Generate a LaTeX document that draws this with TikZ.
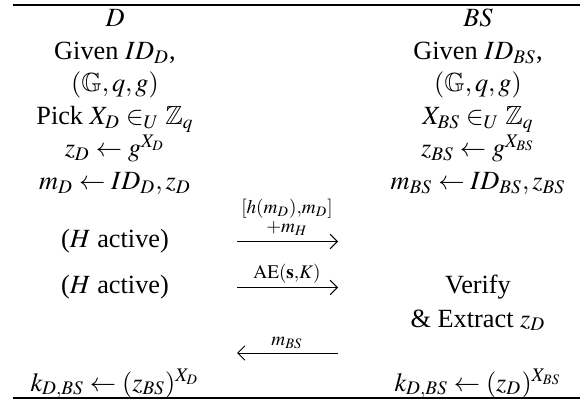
\documentclass[tikz,border=0pt]{standalone}
\usepackage{mathptmx}
\usepackage{amssymb}
\usepackage{fontspec}
\setmainfont{Liberation Serif}
\usetikzlibrary{arrows.meta}
\begin{document}
\begin{tikzpicture}[x=0.4165pt,y=-0.4165pt,
  txt/.style={anchor=base,inner sep=0pt,font=\fontsize{10.95}{13}\selectfont},
  lbl/.style={anchor=base,inner sep=0pt,font=\fontsize{10.95}{13}\selectfont},
  msg/.style={-{Straight Barb[length=3pt,width=6pt]},line width=0.4pt},
  rulebar/.style={line width=0.8pt}]
\useasboundingbox (0,0) rectangle (581,407);
% rules
\coordinate (tl) at (13,5);
\coordinate (tr) at (580,5);
\coordinate (bl) at (13,398);
\coordinate (br) at (580,398);
\draw[rulebar] (tl) -- (tr);
\draw[rulebar] (bl) -- (br);
% left column
\node[txt] (hD) at (115,27) {$D$};
\node[txt] (l1) at (115,59.5) {Given $ID_D$,};
\node[txt] (l2) at (115,92) {$(\mathbb{G},q,g)$};
\node[txt] (l3) at (115,124.5) {Pick $X_D\in_U\mathbb{Z}_q$};
\node[txt] (l4) at (115,157) {$z_D\leftarrow g^{X_D}$};
\node[txt] (l5) at (115,189.5) {$m_D\leftarrow ID_D,z_D$};
\node[txt] (l6) at (115,248) {($H$ active)};
\node[txt] (l7) at (115,294) {($H$ active)};
\node[txt] (l8) at (115,391) {$k_{D,BS}\leftarrow(z_{BS})^{X_D}$};
% right column
\node[txt] (hB) at (478,27) {$BS$};
\node[txt] (r1) at (478,59.5) {Given $ID_{BS}$,};
\node[txt] (r2) at (478,92) {$(\mathbb{G},q,g)$};
\node[txt] (r3) at (478,124.5) {$X_{BS}\in_U\mathbb{Z}_q$};
\node[txt] (r4) at (478,157) {$z_{BS}\leftarrow g^{X_{BS}}$};
\node[txt] (r5) at (478,189.5) {$m_{BS}\leftarrow ID_{BS},z_{BS}$};
\node[txt] (r7) at (478,294) {Verify};
\node[txt] (r8) at (478,327) {\& Extract $z_D$};
\node[txt] (r9) at (478,391) {$k_{D,BS}\leftarrow(z_D)^{X_{BS}}$};
% messages
\node[lbl] (m1a) at (287,213.5) {$\scriptstyle[h(m_D),m_D]$};
\node[lbl] (m1b) at (287,233) {$\scriptstyle+m_H$};
\coordinate (a1s) at (237,241.5);
\coordinate (a1e) at (338,241.5);
\draw[msg] (a1s) -- (a1e);
\node[lbl] (m2) at (287,279) {$\scriptstyle\mathrm{AE}(\mathbf{s},K)$};
\coordinate (a2s) at (237,287.5);
\coordinate (a2e) at (338,287.5);
\draw[msg] (a2s) -- (a2e);
\node[lbl] (m3) at (287,345) {$\scriptstyle m_{BS}$};
\coordinate (a3s) at (338,353);
\coordinate (a3e) at (237,353);
\draw[msg] (a3s) -- (a3e);
\end{tikzpicture}
\end{document}
